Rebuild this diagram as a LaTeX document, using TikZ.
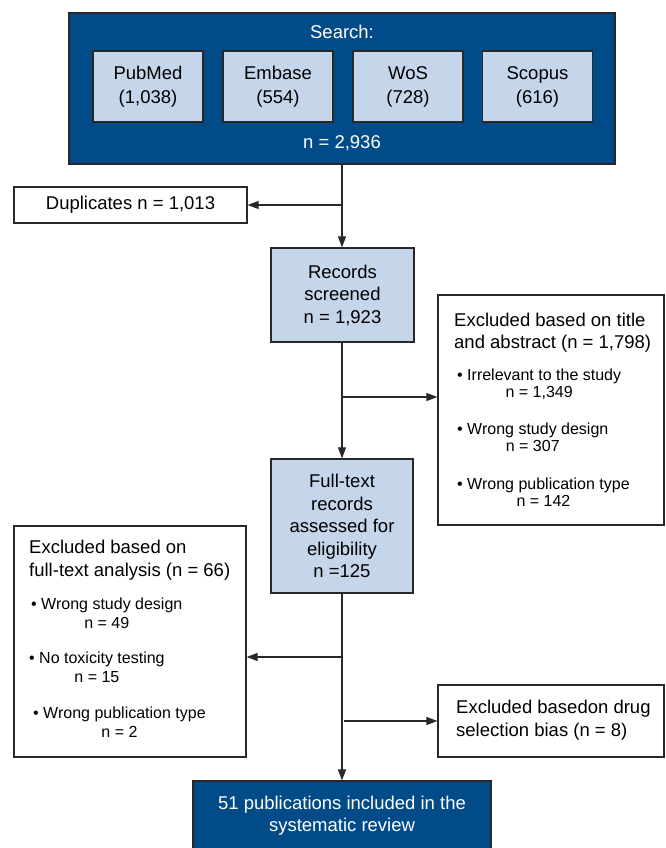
\documentclass[tikz,border=0pt]{standalone}
\usepackage{fontspec}
\setmainfont{Liberation Sans}
\usetikzlibrary{arrows.meta}
\definecolor{darkblue}{RGB}{0,75,136}
\definecolor{lightblue}{RGB}{197,214,235}
\definecolor{edgec}{RGB}{40,40,40}
\newcommand{\mainfs}{\fontsize{18.5}{22.5}\selectfont}
\tikzset{
  box/.style={draw=edgec, line width=1.2pt, inner sep=0pt, align=center, font=\mainfs},
  darkbox/.style={box, fill=darkblue, text=white},
  lightbox/.style={box, fill=lightblue},
  whitebox/.style={box, fill=white},
  txt/.style={inner sep=0pt, font=\mainfs},
  bul/.style={inner sep=0pt, align=center, anchor=west},
  arr/.style={draw=edgec, line width=1.1pt, -{Triangle[length=11pt,width=8pt]}},
  ln/.style={draw=edgec, line width=1.1pt}
}
\begin{document}
\begin{tikzpicture}[x=1pt,y=-1pt]
\useasboundingbox (0,0) rectangle (665,848);
\clip (0,0) rectangle (665,848);
% top search box
\node[darkbox, minimum width=546pt, minimum height=151pt] (top) at (342,88.5) {};
\node[txt, text=white] (search) at (342,32) {Search:};
\node[lightbox, minimum width=110pt, minimum height=71pt, font=\fontsize{18.5}{24}\selectfont] (pub) at (148,86.5) {PubMed\\(1,038)};
\node[lightbox, minimum width=110pt, minimum height=71pt, font=\fontsize{18.5}{24}\selectfont] (emb) at (278,86.5) {Embase\\(554)};
\node[lightbox, minimum width=110pt, minimum height=71pt, font=\fontsize{18.5}{24}\selectfont] (wos) at (408,86.5) {WoS\\(728)};
\node[lightbox, minimum width=110pt, minimum height=71pt, font=\fontsize{18.5}{24}\selectfont] (sco) at (537.5,86.5) {Scopus\\(616)};
\node[txt, text=white] (ntot) at (342,143) {n = 2,936};
% duplicates
\node[whitebox, minimum width=233pt, minimum height=36pt] (dup) at (130.5,205) {Duplicates n = 1,013};
% records screened
\node[lightbox, minimum width=143pt, minimum height=94pt] (rec) at (342.5,295) {Records\\screened\\n = 1,923};
% excluded title/abstract
\node[whitebox, minimum width=226pt, minimum height=230pt] (ex1) at (551,410) {};
\node[txt, align=left, anchor=west, font=\fontsize{18.5}{22}\selectfont] (ex1h) at (454,333) {Excluded based on title\\and abstract (n = 1,798)};
\node[bul, font=\fontsize{16}{17.5}\selectfont] (ex1a) at (457,384) {• Irrelevant to the study\\n = 1,349};
\node[bul, font=\fontsize{16}{17.5}\selectfont] (ex1b) at (457,437.5) {• Wrong study design\\n = 307};
\node[bul, font=\fontsize{16}{17.5}\selectfont] (ex1c) at (457,492) {• Wrong publication type\\n = 142};
% full text
\node[lightbox, minimum width=142pt, minimum height=134pt] (full) at (342,526) {Full-text\\records\\assessed for\\eligibility\\n =125};
% excluded full text
\node[whitebox, minimum width=232pt, minimum height=231pt] (ex2) at (130,641.5) {};
\node[txt, align=left, anchor=west, font=\fontsize{18.5}{23.5}\selectfont] (ex2h) at (29,560) {Excluded based on\\full-text analysis (n = 66)};
\node[bul, font=\fontsize{16}{19}\selectfont] (ex2a) at (31,613.5) {• Wrong study design\\n = 49};
\node[bul, font=\fontsize{16}{19}\selectfont] (ex2b) at (29,667.5) {• No toxicity testing\\n = 15};
\node[bul, font=\fontsize{16}{19.5}\selectfont] (ex2c) at (33,722) {• Wrong publication type\\n = 2};
% drug selection bias
\node[whitebox, minimum width=226pt, minimum height=72pt] (ex3) at (551,721) {};
\node[txt, align=left, anchor=west, font=\fontsize{18.5}{23}\selectfont] (ex3h) at (456,720.5) {Excluded basedon drug\\selection bias (n = 8)};
% final
\node[darkbox, minimum width=298pt, minimum height=74pt] (fin) at (342,818) {};
\node[txt, text=white, align=center, font=\fontsize{18.5}{22}\selectfont] (fint) at (342,816) {51 publications included in the\\systematic review};
% connectors
\draw[arr] (top.south) -- (top.south |- rec.north);
\draw[arr] (top.south |- dup.east) -- (dup.east);
\draw[arr] (rec.south -| top.south) -- (top.south |- full.north);
\coordinate (b1) at (342,397);
\draw[arr] (b1) -- (b1 -| ex1.west);
\draw[arr] (full.south) -- (full.south |- fin.north);
\coordinate (b2) at (342,657);
\draw[arr] (b2) -- (b2 -| ex2.east);
\coordinate (b3) at (344,721);
\draw[arr] (b3) -- (b3 -| ex3.west);
\end{tikzpicture}
\end{document}
